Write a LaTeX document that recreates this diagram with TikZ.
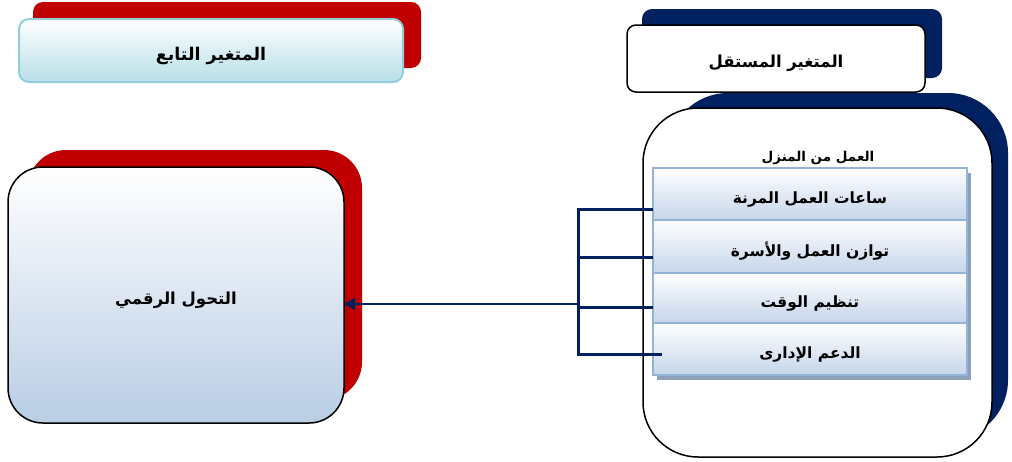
\documentclass[tikz,border=0pt]{standalone}
\usepackage{fontspec}
\newfontfamily\arabicfont[Script=Arabic]{DejaVu Sans}
\TeXXeTstate=1
\usetikzlibrary{arrows.meta}
\definecolor{navy}{HTML}{002060}
\definecolor{dred}{HTML}{C00000}
\definecolor{cyanb}{HTML}{92CDDC}
\definecolor{cyanf}{HTML}{B7DEE8}
\definecolor{itemb}{HTML}{95B3D7}
\definecolor{itemf}{HTML}{C5D5EA}
\definecolor{leftf}{HTML}{B9CDE5}
\definecolor{shadowg}{HTML}{8EA1BB}
\tikzset{
  box/.style={inner sep=0pt, outer sep=0pt, font=\arabicfont\bfseries},
  redsh/.style={box, fill=dred},
  navysh/.style={box, fill=navy},
  itembox/.style={box, draw=itemb, line width=1.5pt, top color=white, bottom color=itemf, minimum width=314pt, font=\arabicfont\bfseries\fontsize{15.5}{17}\selectfont},
  conn/.style={draw=navy, line width=3pt},
}
\newcommand{\ar}[1]{\raisebox{-5pt}[\height][\depth]{\beginR #1\endR}}
\begin{document}
\begin{tikzpicture}[x=1pt,y=-1pt]
\useasboundingbox (0,0) rectangle (1012,461);
% top left
\node[redsh, rounded corners=10pt, minimum width=388pt, minimum height=66pt] (rsh1) at (227,35) {};
\node[box, rounded corners=10pt, draw=cyanb, line width=2pt, top color=white, bottom color=cyanf, minimum width=384pt, minimum height=63pt, font=\arabicfont\bfseries\fontsize{17.5}{19}\selectfont] (dep) at (211,50.5) {\ar{المتغير التابع}};
% top right
\node[navysh, rounded corners=10pt, minimum width=300pt, minimum height=69pt] (nsh1) at (792,43.5) {};
\node[box, rounded corners=9pt, draw=black, line width=1.5pt, fill=white, minimum width=298pt, minimum height=67pt, font=\arabicfont\bfseries\fontsize{16.5}{18}\selectfont] (ind) at (776,58.5) {\ar{المتغير المستقل}};
% big right
\node[navysh, rounded corners=60pt, minimum width=340pt, minimum height=347pt] (nsh2) at (838,266.5) {};
\node[box, rounded corners=55pt, draw=black, line width=1.5pt, fill=white, minimum width=349pt, minimum height=349pt] (grp) at (817.5,282.5) {};
\node[box, font=\arabicfont\bfseries\fontsize{13.5}{15}\selectfont] (grpt) at (818,153) {\ar{العمل من المنزل}};
% item shadow
\node[box, fill=shadowg, minimum width=314pt, minimum height=207pt] (ish) at (814,276) {};
\node[itembox, minimum height=52pt] (i1) at (810,194) {\ar{ساعات العمل المرنة}};
\node[itembox, minimum height=53pt] (i2) at (810,246.5) {\ar{توازن العمل والأسرة}};
\node[itembox, minimum height=50pt] (i3) at (810,298) {\ar{تنظيم الوقت}};
\node[itembox, minimum height=52pt] (i4) at (810,349) {\ar{الدعم الإدارى}};
% left
\node[redsh, rounded corners=38pt, minimum width=334pt, minimum height=250pt] (rsh2) at (195,275) {};
\node[box, rounded corners=35pt, draw=black, line width=1.5pt, top color=white, bottom color=leftf, minimum width=336pt, minimum height=256pt, font=\arabicfont\bfseries\fontsize{16.5}{18}\selectfont] (dt) at (176,295) {\ar{التحول الرقمي}};
% connectors
\coordinate (j1) at (578,209);
\coordinate (j2) at (578,257);
\coordinate (j3) at (578,307);
\coordinate (j4) at (578,354);
\coordinate (ja) at (578,304);
\draw[conn] (j1) -- (j1 -| i1.west);
\draw[conn] (j2) -- (j2 -| i2.west);
\draw[conn] (j3) -- (j3 -| i3.west);
\draw[conn] (j4) -- ([xshift=9pt]j4 -| i4.west);
\draw[conn, line cap=rect] (j1) -- (j4);
\draw[draw=navy, line width=1.8pt, -{Triangle[length=11pt, width=12pt]}] (ja) -- (ja -| dt.east);
\end{tikzpicture}
\end{document}
